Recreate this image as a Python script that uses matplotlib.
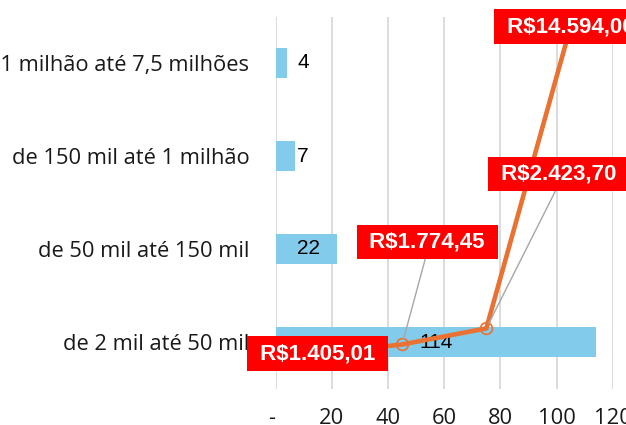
import matplotlib
matplotlib.use("Agg")
import matplotlib.pyplot as plt

# ---- data ----
categories = ["de 2 mil até 50 mil", "de 50 mil até 150 mil",
              "de 150 mil até 1 milhão", "de 1 milhão até 7,5 milhões"]
counts = [114, 22, 7, 4]
avg_values = [1405.01, 1774.45, 2423.70, 14594.00]
avg_labels = ["R$1.405,01", "R$1.774,45", "R$2.423,70", "R$14.594,00"]
x_ticks = [0, 20, 40, 60, 80, 100, 120]
x_ticklabels = ["- ", "20", "40", "60", "80", "100", "120"]

# ---- style ----
BAR_C = "#83CBEB"
LINE_C = "#E97132"
GRID_C = "#D9D9D9"
CAT_FONT = "Open Sans"
NUM_FONT = "Liberation Sans"

W, H, DPI = 626, 425, 100
fig = plt.figure(figsize=(W / DPI, H / DPI), dpi=DPI)
fig.patch.set_facecolor("white")

# fit category font size so "de 2 mil até 50 mil" is ~186 px wide
renderer = fig.canvas.get_renderer()
probe = fig.text(0, 0, categories[0], fontfamily=CAT_FONT, fontsize=15)
wpx = probe.get_window_extent(renderer).width
probe.remove()
cat_size = 15 * 186.0 / wpx

l, r, t, b = 275.7, 612.7, 16.5, 388.5
pos = [l / W, 1 - b / H, (r - l) / W, (b - t) / H]
ax = fig.add_axes(pos)

ypos = list(range(len(categories)))
ax.barh(ypos, counts, height=0.32, color=BAR_C, zorder=2)
ax.set_xlim(0, 120)
ax.set_ylim(-0.5, len(categories) - 0.5)
ax.set_yticks(ypos)
ax.set_yticklabels(categories, fontfamily=CAT_FONT, fontsize=cat_size, color="#1a1a1a")
ax.set_xticks(x_ticks)
ax.set_xticklabels(x_ticklabels, fontfamily=CAT_FONT, fontsize=cat_size, color="#1a1a1a")
ax.tick_params(axis="y", length=0, pad=19)
ax.tick_params(axis="x", length=0, pad=14)
for s in ax.spines.values():
    s.set_visible(False)
ax.grid(axis="x", color=GRID_C, linewidth=1.3, zorder=0)
ax.set_axisbelow(True)

# value labels
for i, v in enumerate(counts):
    if v >= 100:
        ax.text(v / 2, i, str(v), ha="center", va="center",
                fontfamily=NUM_FONT, fontsize=15, color="black", zorder=3)
    else:
        ax.text(7.6, i, str(v), ha="left", va="center",
                fontfamily=NUM_FONT, fontsize=15, color="black", zorder=3)

# secondary axes for the line
ax2 = fig.add_axes(pos, frameon=False)
ax2.set_xlim(0, len(avg_values))
ax2.set_ylim(0, 15000)
ax2.axis("off")
xs = [i + 0.5 for i in range(len(avg_values))]
ax2.plot(xs, avg_values, color=LINE_C, linewidth=3.3, zorder=3,
         clip_on=False, solid_capstyle="round")
ax2.plot(xs, avg_values, linestyle="none", marker="o", markersize=8.5,
         mfc="none", mec=LINE_C, mew=1.2, zorder=4, clip_on=False)

offsets = [(0, 0), (18, 74), (52, 111), (0, 0)]
for x, v, lab, off in zip(xs, avg_values, avg_labels, offsets):
    kw = dict(xy=(x, v), xycoords="data", textcoords="offset points",
              xytext=off, ha="center", va="center",
              fontfamily=NUM_FONT, fontsize=16, fontweight="bold", color="white",
              bbox=dict(boxstyle="square,pad=0.3", fc="#FF0000", ec="none"),
              annotation_clip=False, zorder=6)
    if off != (0, 0):
        kw["arrowprops"] = dict(arrowstyle="-", color="#A6A6A6", lw=1.0,
                                relpos=(0.5, 0.0), shrinkA=0, shrinkB=4)
    ax2.annotate(" " + lab + " ", **kw)

fig.savefig("out.png", dpi=DPI)
